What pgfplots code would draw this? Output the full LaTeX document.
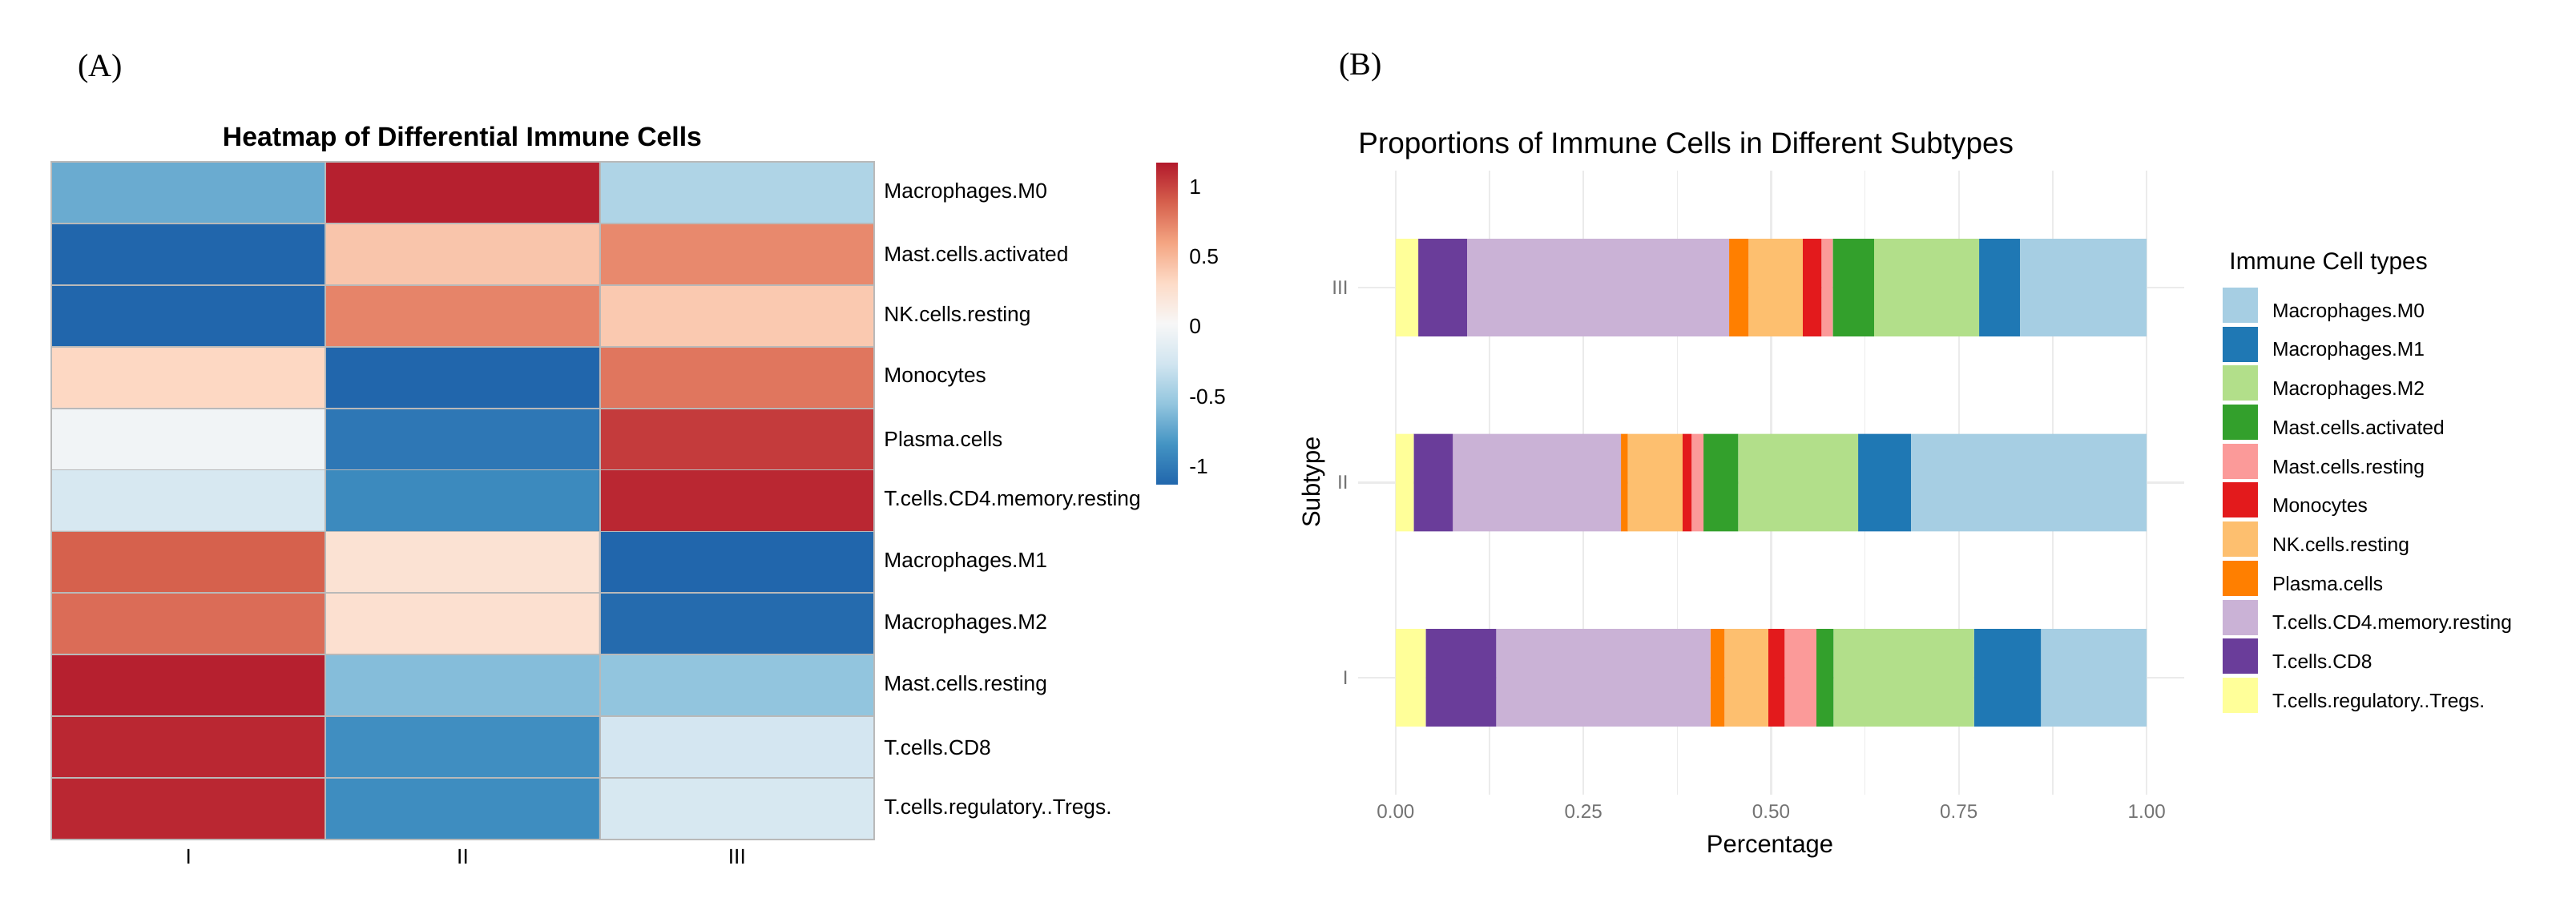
\documentclass[border=0pt]{standalone}
\usepackage{pgfplots}
\pgfplotsset{compat=1.18}
\usepackage{pgfplotstable}
\usepackage{fontspec}
\setmainfont{Liberation Sans}
\newfontfamily\seriffont{Liberation Serif}

% Paired palette
\definecolor{cM0}{HTML}{A6CEE3}
\definecolor{cM1}{HTML}{1F78B4}
\definecolor{cM2}{HTML}{B2DF8A}
\definecolor{cMastA}{HTML}{33A02C}
\definecolor{cMastR}{HTML}{FB9A99}
\definecolor{cMono}{HTML}{E31A1C}
\definecolor{cNK}{HTML}{FDBF6F}
\definecolor{cPlasma}{HTML}{FF7F00}
\definecolor{cCD4}{HTML}{CAB2D6}
\definecolor{cCD8}{HTML}{6A3D9A}
\definecolor{cTregs}{HTML}{FFFF99}
\definecolor{gridc}{gray}{0.92}
\definecolor{tickc}{gray}{0.45}

\newcommand\fs[1]{\fontsize{#1}{#1}\selectfont}

% heatmap: x = subtype column, y = row (0 = top), z = row-scaled value
\pgfplotstableread{
x y z
0 0 -0.70
1 0 1.15
2 0 -0.42
0 1 -1.15
1 1 0.43
2 1 0.72
0 2 -1.15
1 2 0.74
2 2 0.41
0 3 0.33
1 3 -1.13
2 3 0.80
0 4 -0.02
1 4 -1.02
2 4 1.04
0 5 -0.22
1 5 -0.90
2 5 1.12
0 6 0.89
1 6 0.24
2 6 -1.13
0 7 0.84
1 7 0.26
2 7 -1.10
0 8 1.15
1 8 -0.60
2 8 -0.55
0 9 1.12
1 9 -0.87
2 9 -0.24
0 10 1.12
1 10 -0.88
2 10 -0.22
}\heat

% proportions per subtype (pos 1 = I, 2 = II, 3 = III)
\pgfplotstableread{
pos Tregs CD8 CD4 Plasma NK Mono MastR MastA M2 M1 M0
1 0.040 0.094 0.285 0.019 0.058 0.022 0.042 0.023 0.187 0.089 0.141
2 0.024 0.052 0.224 0.009 0.073 0.012 0.016 0.046 0.160 0.070 0.314
3 0.030 0.065 0.349 0.026 0.072 0.025 0.015 0.055 0.140 0.054 0.169
}\props

\begin{document}
\begin{tikzpicture}
\path[use as bounding box] (0,0) rectangle (321.5mm,112.6mm);

\node[font=\seriffont\fs{11.4}] at (12.5mm,104.0mm) {(A)};
\node[font=\seriffont\fs{11.4}] at (169.8mm,104.2mm) {(B)};

%% (A) heatmap
\node[font=\bfseries\fs{9.6}] at (57.7mm,95.2mm) {Heatmap of Differential Immune Cells};
\begin{axis}[
  at={(6.4mm,7.8mm)}, anchor=south west,
  scale only axis, width=102.7mm, height=84.6mm,
  xmin=-0.5, xmax=2.5, ymin=-0.5, ymax=10.5, y dir=reverse,
  enlargelimits=false, axis on top,
  colormap={hm}{rgb255(0cm)=(33,102,172); rgb255(1cm)=(67,147,195);
    rgb255(2cm)=(146,197,222); rgb255(3cm)=(209,229,240);
    rgb255(4cm)=(247,247,247); rgb255(5cm)=(253,219,199);
    rgb255(6cm)=(244,165,130); rgb255(7cm)=(214,96,77);
    rgb255(8cm)=(178,24,43)},
  point meta min=-1.13, point meta max=1.18,
  xtick={0,1,2}, xticklabels={I,II,III},
  ytick={0,...,10},
  yticklabels={Macrophages.M0,Mast.cells.activated,NK.cells.resting,Monocytes,
    Plasma.cells,T.cells.CD4.memory.resting,Macrophages.M1,Macrophages.M2,
    Mast.cells.resting,T.cells.CD8,T.cells.regulatory..Tregs.},
  yticklabel pos=right,
  major tick length=0, minor tick length=0,
  minor xtick={0.5,1.5}, minor ytick={0.5,1.5,...,9.5},
  xminorgrids=true, yminorgrids=true,
  minor grid style={color=gray!55, line width=0.5pt},
  axis line style={color=gray!55, line width=0.5pt},
  tick label style={font=\fs{7.5}},
  yticklabel style={anchor=west},
  colorbar right,
  colorbar style={
    at={(parent axis.north east)}, anchor=north west, xshift=32.2mm,
    scale only axis, width=2.7mm, height=40.3mm,
    axis line style={draw=none},
    ytick={-1,-0.5,0,0.5,1}, yticklabels={-1,-0.5,0,0.5,1},
    major tick length=0,
    yticklabel style={font=\fs{7.5}, xshift=0.2mm},
  },
]
\addplot[matrix plot*, mesh/cols=3, point meta=explicit] table[meta=z] {\heat};
\end{axis}

%% (B) stacked bars
\node[font=\fs{10.5}, anchor=west] at (168.3mm,94.4mm) {Proportions of Immune Cells in Different Subtypes};
\node[font=\fs{8.8}] at (220.9mm,6.9mm) {Percentage};
\node[font=\fs{8.8}, rotate=90] at (163.9mm,52.4mm) {Subtype};
\node[font=\fs{8.5}, anchor=west] at (277.0mm,79.7mm) {Immune Cell types};
\begin{axis}[
  at={(169.5mm,13.4mm)}, anchor=south west,
  scale only axis, width=103.1mm, height=77.9mm,
  xbar stacked, bar width=0.5,
  xmin=-0.05, xmax=1.05, ymin=0.4, ymax=3.6,
  xtick={0,0.25,0.5,0.75,1}, xticklabels={0.00,0.25,0.50,0.75,1.00},
  minor xtick={0.125,0.375,0.625,0.875},
  ytick={1,2,3}, yticklabels={I,II,III},
  xmajorgrids=true, xminorgrids=true, ymajorgrids=true,
  major grid style={color=gridc, line width=0.6pt},
  minor grid style={color=gridc, line width=0.35pt},
  axis line style={draw=none},
  major tick length=0, minor tick length=0,
  tick label style={font=\fs{6.9}, text=tickc},
  every axis plot post/.append style={
    legend image code/.code={%
      \fill[##1] (0mm,-1.3mm) rectangle (4.4mm,3.1mm); \path (6.2mm,0mm);}},
  reverse legend,
  legend cell align=left,
  legend style={at={(1.0466,0.8126)}, anchor=north west, draw=none, fill=none,
    inner sep=0pt, outer sep=0pt, row sep=0.47mm, font=\fs{7},
    nodes={inner sep=0pt}},
]
\addplot[fill=cTregs, draw=none] table[x=Tregs, y=pos] {\props};
\addlegendentry{T.cells.regulatory..Tregs.}
\addplot[fill=cCD8, draw=none] table[x=CD8, y=pos] {\props};
\addlegendentry{T.cells.CD8}
\addplot[fill=cCD4, draw=none] table[x=CD4, y=pos] {\props};
\addlegendentry{T.cells.CD4.memory.resting}
\addplot[fill=cPlasma, draw=none] table[x=Plasma, y=pos] {\props};
\addlegendentry{Plasma.cells}
\addplot[fill=cNK, draw=none] table[x=NK, y=pos] {\props};
\addlegendentry{NK.cells.resting}
\addplot[fill=cMono, draw=none] table[x=Mono, y=pos] {\props};
\addlegendentry{Monocytes}
\addplot[fill=cMastR, draw=none] table[x=MastR, y=pos] {\props};
\addlegendentry{Mast.cells.resting}
\addplot[fill=cMastA, draw=none] table[x=MastA, y=pos] {\props};
\addlegendentry{Mast.cells.activated}
\addplot[fill=cM2, draw=none] table[x=M2, y=pos] {\props};
\addlegendentry{Macrophages.M2}
\addplot[fill=cM1, draw=none] table[x=M1, y=pos] {\props};
\addlegendentry{Macrophages.M1}
\addplot[fill=cM0, draw=none] table[x=M0, y=pos] {\props};
\addlegendentry{Macrophages.M0}
\end{axis}
\end{tikzpicture}
\end{document}
